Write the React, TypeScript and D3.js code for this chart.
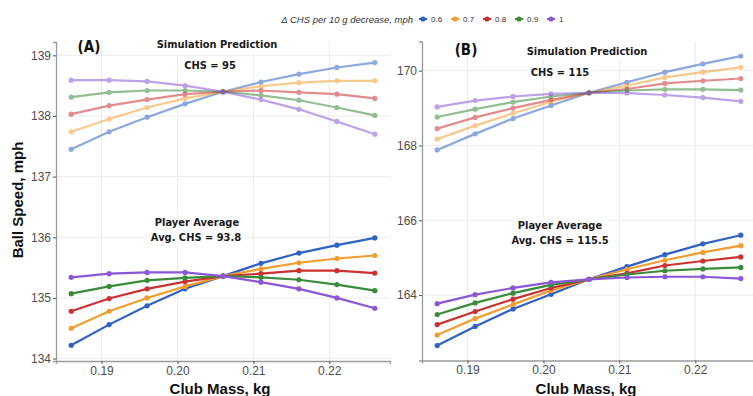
import React, { useEffect, useRef } from 'react';
import * as d3 from 'd3';

const masses = [0.186, 0.191, 0.196, 0.201, 0.206, 0.211, 0.216, 0.221, 0.226];
const deltaLevels = ['0.6', '0.7', '0.8', '0.9', '1'];
const levelColors = ['#2f62c4', '#f59c30', '#cc3131', '#3a8b3a', '#8c56d8'];
const xTicks = [0.19, 0.2, 0.21, 0.22];

// panel A, CHS = 95
const simA = [
  [137.45, 137.74, 137.98, 138.20, 138.40, 138.56, 138.69, 138.80, 138.88],
  [137.74, 137.95, 138.14, 138.29, 138.40, 138.49, 138.55, 138.58, 138.58],
  [138.03, 138.17, 138.27, 138.36, 138.40, 138.42, 138.39, 138.36, 138.29],
  [138.31, 138.39, 138.42, 138.42, 138.40, 138.34, 138.26, 138.14, 138.01],
  [138.59, 138.59, 138.57, 138.50, 138.40, 138.27, 138.11, 137.91, 137.70],
];
const playerA = [
  [134.22, 134.56, 134.87, 135.15, 135.36, 135.57, 135.74, 135.87, 135.99],
  [134.50, 134.78, 135.00, 135.19, 135.36, 135.48, 135.58, 135.65, 135.70],
  [134.78, 134.99, 135.15, 135.27, 135.36, 135.40, 135.45, 135.45, 135.41],
  [135.07, 135.19, 135.29, 135.33, 135.36, 135.34, 135.30, 135.22, 135.12],
  [135.34, 135.40, 135.42, 135.42, 135.36, 135.26, 135.15, 135.00, 134.83],
];
const yTicksA = [134, 135, 136, 137, 138, 139];

// panel B, CHS = 115
const simB = [
  [167.88, 168.31, 168.72, 169.07, 169.41, 169.69, 169.96, 170.18, 170.39],
  [168.17, 168.53, 168.86, 169.17, 169.41, 169.60, 169.82, 169.96, 170.09],
  [168.45, 168.75, 169.00, 169.22, 169.41, 169.51, 169.66, 169.73, 169.79],
  [168.76, 168.97, 169.16, 169.31, 169.41, 169.47, 169.50, 169.50, 169.48],
  [169.03, 169.20, 169.31, 169.38, 169.41, 169.40, 169.35, 169.28, 169.18],
];
const playerB = [
  [162.65, 163.16, 163.63, 164.02, 164.42, 164.76, 165.08, 165.37, 165.60],
  [162.93, 163.37, 163.75, 164.12, 164.42, 164.69, 164.93, 165.14, 165.32],
  [163.21, 163.56, 163.89, 164.19, 164.42, 164.58, 164.79, 164.91, 165.02],
  [163.48, 163.79, 164.05, 164.27, 164.42, 164.55, 164.65, 164.70, 164.74],
  [163.77, 164.01, 164.19, 164.34, 164.42, 164.47, 164.49, 164.49, 164.44],
];
const yTicksB = [164, 166, 168, 170];

const tickFont = '"Liberation Sans", Arial, sans-serif';
const labelFont = '"DejaVu Sans Condensed", "DejaVu Sans", sans-serif';

function App() {
  const ref = useRef<SVGSVGElement>(null);

  useEffect(() => {
    const svg = d3.select(ref.current);
    svg.selectAll('*').remove();

    const panels = [
      {
        tag: '(A)', sim: simA, player: playerA, yTicks: yTicksA,
        x: [56, 390], y: [361, 42], yDom: [133.96, 139.22],
        tagPos: [89, 52], simTitle: [217, 48], simChs: 'CHS = 95', simChsPos: [210, 69],
        playerPos: [197, 226], playerChs: 'Avg. CHS = 93.8', playerChsPos: [196, 241],
      },
      {
        tag: '(B)', sim: simB, player: playerB, yTicks: yTicksB,
        x: [422, 756], y: [360.5, 41.5], yDom: [162.25, 170.78],
        tagPos: [466, 55], simTitle: [587, 55], simChs: 'CHS = 115', simChsPos: [560, 76],
        playerPos: [560, 229], playerChs: 'Avg. CHS = 115.5', playerChsPos: [560, 244],
      },
    ];

    panels.forEach(p => {
      const x = d3.scaleLinear().domain([0.184, 0.228]).range(p.x);
      const y = d3.scaleLinear().domain(p.yDom).range(p.y);
      const g = svg.append('g');

      // grid
      g.selectAll('.gx').data(xTicks).enter().append('line')
        .attr('x1', d => x(d)).attr('x2', d => x(d))
        .attr('y1', p.y[0]).attr('y2', p.y[1])
        .style('stroke', '#ebebeb').style('stroke-width', 1);
      g.selectAll('.gy').data(p.yTicks).enter().append('line')
        .attr('x1', p.x[0]).attr('x2', p.x[1])
        .attr('y1', d => y(d)).attr('y2', d => y(d))
        .style('stroke', '#ebebeb').style('stroke-width', 1);

      // label boxes (white fill hides grid)
      const label = (txt: string, cx: number, cy: number) => {
        const t = g.append('text')
          .attr('x', cx).attr('y', cy)
          .attr('text-anchor', 'middle')
          .style('font-family', labelFont)
          .style('font-weight', 'bold')
          .style('font-size', '11px')
          .style('fill', '#1a1a1a')
          .text(txt);
        const bb = (t.node() as SVGTextElement).getBBox();
        g.insert('rect', 'text')
          .attr('x', bb.x - 4).attr('y', bb.y - 2)
          .attr('width', bb.width + 8).attr('height', bb.height + 4)
          .style('fill', 'white');
      };

      const line = d3.line<number>()
        .x((d, i) => x(masses[i]))
        .y(d => y(d))
        .curve(d3.curveLinear);

      const drawSeries = (set: number[][], op: number) => {
        set.forEach((vals, k) => {
          const s = g.append('g').style('opacity', op);
          s.append('path')
            .attr('d', line(vals))
            .style('fill', 'none')
            .style('stroke', levelColors[k])
            .style('stroke-width', 2.2);
          s.selectAll('circle').data(vals).enter().append('circle')
            .attr('cx', (d, i) => x(masses[i]))
            .attr('cy', d => y(d))
            .attr('r', 2.6)
            .style('fill', levelColors[k]);
        });
      };

      label('Simulation Prediction', p.simTitle[0], p.simTitle[1]);
      label(p.simChs, p.simChsPos[0], p.simChsPos[1]);
      label('Player Average', p.playerPos[0], p.playerPos[1]);
      label(p.playerChs, p.playerChsPos[0], p.playerChsPos[1]);

      drawSeries(p.sim, 0.55);
      drawSeries(p.player, 1);

      g.append('text')
        .attr('x', p.tagPos[0]).attr('y', p.tagPos[1])
        .attr('text-anchor', 'middle')
        .style('font-family', labelFont)
        .style('font-weight', 'bold')
        .style('font-size', '15px')
        .style('fill', '#111')
        .text(p.tag);

      // axes
      const xAxis = g.append('g')
        .attr('transform', `translate(0,${p.y[0]})`)
        .call(d3.axisBottom(x).tickValues(xTicks).tickFormat(d3.format('.2f')).tickSizeOuter(0).tickSize(3).tickPadding(2));
      const yAxis = g.append('g')
        .attr('transform', `translate(${p.x[0]},0)`)
        .call(d3.axisLeft(y).tickValues(p.yTicks).tickFormat(d3.format('d')).tickSizeOuter(0).tickSize(3).tickPadding(2));
      [xAxis, yAxis].forEach(a => {
        a.select('.domain').style('stroke', '#9a9a9a').style('stroke-width', 1.3);
        a.selectAll('.tick line').style('stroke', '#555');
        a.selectAll('.tick text')
          .style('font-family', tickFont)
          .style('font-size', '12px')
          .style('fill', '#4d4d4d');
      });

      svg.append('text')
        .attr('x', (p.x[0] + p.x[1]) / 2 - 3).attr('y', 394)
        .attr('text-anchor', 'middle')
        .style('font-family', tickFont)
        .style('font-weight', 'bold')
        .style('font-size', '15px')
        .style('fill', '#111')
        .text('Club Mass, kg');
    });

    svg.append('text')
      .attr('transform', 'translate(23,200) rotate(-90)')
      .attr('text-anchor', 'middle')
      .style('font-family', tickFont)
      .style('font-weight', 'bold')
      .style('font-size', '15px')
      .style('fill', '#111')
      .text('Ball Speed, mph');

    // legend
    const legend = svg.append('g').attr('transform', 'translate(0,19)');
    legend.append('text')
      .attr('x', 413).attr('y', 3.5)
      .attr('text-anchor', 'end')
      .style('font-family', tickFont)
      .style('font-style', 'italic')
      .style('font-size', '9.5px')
      .style('fill', '#333')
      .text('\u0394 CHS per 10 g decrease, mph');
    const keyX = d3.scalePoint<string>().domain(deltaLevels).range([423, 551]);
    deltaLevels.forEach((lv, k) => {
      const kx = keyX(lv) as number;
      legend.append('line')
        .attr('x1', kx - 4).attr('x2', kx + 4).attr('y1', 0).attr('y2', 0)
        .style('stroke', levelColors[k]).style('stroke-width', 2);
      legend.append('circle')
        .attr('cx', kx).attr('cy', 0).attr('r', 2.6)
        .style('fill', levelColors[k]);
      legend.append('text')
        .attr('x', kx + 8).attr('y', 3)
        .style('font-family', tickFont)
        .style('font-size', '8px')
        .style('fill', '#333')
        .text(lv);
    });
  }, []);

  return (
    <div style={{ position: 'absolute', left: 0, top: 0 }}>
      <svg ref={ref} width={753} height={396} style={{ display: 'block', background: 'white' }} />
    </div>
  );
}

export default App;
